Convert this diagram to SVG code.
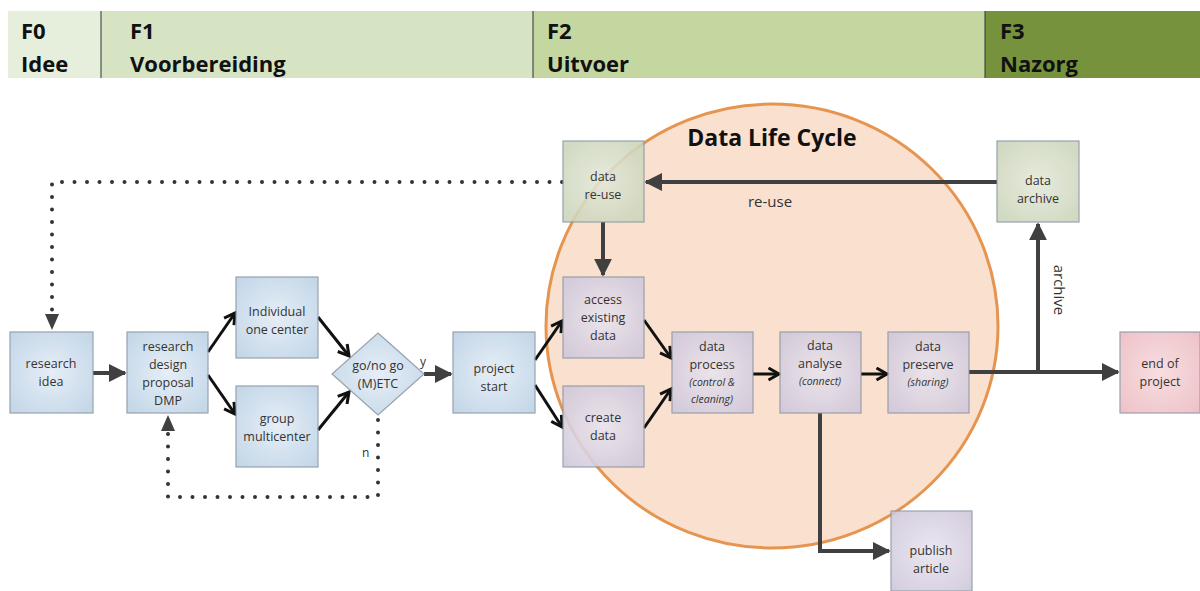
<svg xmlns="http://www.w3.org/2000/svg" width="1200" height="591" viewBox="0 0 1200 591">
<style>
.hd{font-family:"Open Sans","Liberation Sans",Arial,sans-serif;font-weight:bold;font-size:22px;fill:#111}
.t{font-family:"Open Sans","Liberation Sans",sans-serif;font-size:12.5px;fill:#333;text-anchor:middle}
.lbl{font-family:"Open Sans","Liberation Sans",sans-serif;font-size:15px;fill:#333;text-anchor:middle}
.ti{font-family:"Open Sans","Liberation Sans",sans-serif;font-size:10.5px;font-style:italic;fill:#333;text-anchor:middle}
.box{stroke:#8a96a3;stroke-width:1.2;opacity:0.88}
.thick{stroke:#404040;stroke-width:4;fill:none}
.thin{stroke:#111;stroke-width:3;fill:none}
.dot{stroke:#333;stroke-width:4;stroke-linecap:round;stroke-dasharray:0 12.5;fill:none}
</style>
<defs>
<radialGradient id="gb" cx="50%" cy="50%" r="65%"><stop offset="0" stop-color="#e3ecf5"/><stop offset="1" stop-color="#bcd2e6"/></radialGradient>
<radialGradient id="gp" cx="50%" cy="50%" r="65%"><stop offset="0" stop-color="#e9e5ef"/><stop offset="1" stop-color="#cfc7db"/></radialGradient>
<radialGradient id="gg" cx="50%" cy="50%" r="65%"><stop offset="0" stop-color="#e3e8d8"/><stop offset="1" stop-color="#cbd4b9"/></radialGradient>
<radialGradient id="gr" cx="50%" cy="50%" r="65%"><stop offset="0" stop-color="#f7dadd"/><stop offset="1" stop-color="#ecbcc2"/></radialGradient>
<marker id="af" viewBox="0 0 10 10" refX="9" refY="5" markerWidth="4.5" markerHeight="4.5" orient="auto" markerUnits="strokeWidth"><path d="M0,0 L10,5 L0,10 Z" fill="#404040"/></marker>
<marker id="ac" viewBox="0 0 10 10" refX="8" refY="5" markerWidth="5" markerHeight="5" orient="auto" markerUnits="strokeWidth"><path d="M1,1 L8,5 L1,9" fill="none" stroke="#111" stroke-width="2"/></marker>
</defs>
<rect width="1200" height="591" fill="#fff"/>
<g id="phases">
<rect x="8" y="11" width="93" height="67" fill="#e6efdc"/>
<rect x="101" y="11" width="432" height="67" fill="#d7e4c4"/>
<rect x="533" y="11" width="452" height="67" fill="#c4d7a0"/>
<rect x="985" y="11" width="215" height="67" fill="#76923c"/>
<line x1="101" y1="11" x2="101" y2="78" stroke="#333" stroke-width="1"/>
<line x1="533" y1="11" x2="533" y2="78" stroke="#333" stroke-width="1"/>
<line x1="985" y1="11" x2="985" y2="78" stroke="#333" stroke-width="1"/>
<text class="hd" x="21" y="39">F0</text><text class="hd" x="21" y="72">Idee</text>
<text class="hd" x="130" y="39">F1</text><text class="hd" x="130" y="72">Voorbereiding</text>
<text class="hd" x="547" y="39">F2</text><text class="hd" x="547" y="72">Uitvoer</text>
<text class="hd" x="1000" y="39">F3</text><text class="hd" x="1000" y="72">Nazorg</text>
</g>
<g id="data-life-cycle">
<ellipse cx="772" cy="326" rx="226" ry="222" fill="#f8d6bd" fill-opacity="0.75" stroke="#e59550" stroke-width="3"/>
<text x="772" y="146" text-anchor="middle" font-family="'Open Sans','Liberation Sans',sans-serif" font-weight="bold" font-size="23" fill="#111">Data Life Cycle</text>
</g>
<g id="connectors">
<line class="thick" x1="93" y1="373" x2="125" y2="373" marker-end="url(#af)"/>
<line class="thin" x1="208" y1="352" x2="235" y2="313" marker-end="url(#ac)"/>
<line class="thin" x1="208" y1="375" x2="235" y2="414" marker-end="url(#ac)"/>
<line class="thin" x1="318" y1="317" x2="349" y2="356" marker-end="url(#ac)"/>
<line class="thin" x1="318" y1="430" x2="349" y2="392" marker-end="url(#ac)"/>
<line class="thick" x1="424" y1="374" x2="451" y2="374" marker-end="url(#af)"/>
<line class="thin" x1="535" y1="360" x2="562" y2="321" marker-end="url(#ac)"/>
<line class="thin" x1="535" y1="385" x2="562" y2="427" marker-end="url(#ac)"/>
<line class="thin" x1="644" y1="320" x2="671" y2="358" marker-end="url(#ac)"/>
<line class="thin" x1="644" y1="428" x2="671" y2="389" marker-end="url(#ac)"/>
<line class="thin" x1="753" y1="374" x2="779" y2="374" marker-end="url(#ac)"/>
<line class="thin" x1="861" y1="374" x2="887" y2="374" marker-end="url(#ac)"/>
<line class="thick" x1="969" y1="372" x2="1118" y2="372" marker-end="url(#af)"/>
<line class="thick" x1="1038" y1="372" x2="1038" y2="224" marker-end="url(#af)"/>
<line class="thick" x1="997" y1="182" x2="646" y2="182" marker-end="url(#af)"/>
<line class="thick" x1="603" y1="222" x2="603" y2="275" marker-end="url(#af)"/>
<polyline class="thick" points="820,413 820,551 889,551" marker-end="url(#af)"/>
<polyline class="dot" points="562,182 52,182 52,312"/>
<path d="M45,314 L59,314 L52,330 Z" fill="#404040"/>
<polyline class="dot" points="378,420 378,497 168,497 168,433"/>
<path d="M161,431 L175,431 L168,415 Z" fill="#404040"/>
<text x="420" y="366" font-family="'Open Sans','Liberation Sans',sans-serif" font-size="12" fill="#333">y</text>
<text x="362" y="457" font-family="'Open Sans','Liberation Sans',sans-serif" font-size="12" fill="#333">n</text>
<text class="lbl" x="770" y="207">re-use</text>
<text class="lbl" x="1058" y="290" transform="rotate(90 1058 290)" dominant-baseline="middle">archive</text>
</g>
<g id="research-idea"><rect class="box" x="10" y="332" width="83" height="81" fill="url(#gb)"/><text class="t" x="51" y="368">research</text><text class="t" x="51" y="386">idea</text></g>
<g id="research-design"><rect class="box" x="127" y="332" width="81" height="81" fill="url(#gb)"/><text class="t" x="168" y="351">research</text><text class="t" x="168" y="369">design</text><text class="t" x="168" y="387">proposal</text><text class="t" x="168" y="405">DMP</text></g>
<g id="individual"><rect class="box" x="236" y="277" width="82" height="81" fill="url(#gb)"/><text class="t" x="277" y="316">Individual</text><text class="t" x="277" y="334">one center</text></g>
<g id="group"><rect class="box" x="236" y="386" width="82" height="81" fill="url(#gb)"/><text class="t" x="277" y="423">group</text><text class="t" x="277" y="441">multicenter</text></g>
<g id="go-no-go"><polygon class="box" points="378,333 424,374 378,415 332,374" fill="url(#gb)"/><text class="t" x="378" y="370">go/no go</text><text class="t" x="378" y="388">(M)ETC</text></g>
<g id="project-start"><rect class="box" x="453" y="332" width="82" height="81" fill="url(#gb)"/><text class="t" x="494" y="373">project</text><text class="t" x="494" y="391">start</text></g>
<g id="data-reuse"><rect class="box" x="563" y="141" width="81" height="81" fill="url(#gg)" opacity="0.75"/><text class="t" x="603" y="181">data</text><text class="t" x="603" y="199">re-use</text></g>
<g id="access-existing"><rect class="box" x="563" y="277" width="81" height="81" fill="url(#gp)"/><text class="t" x="603" y="304">access</text><text class="t" x="603" y="322">existing</text><text class="t" x="603" y="340">data</text></g>
<g id="create-data"><rect class="box" x="563" y="386" width="81" height="81" fill="url(#gp)"/><text class="t" x="603" y="422">create</text><text class="t" x="603" y="440">data</text></g>
<g id="data-process"><rect class="box" x="672" y="332" width="81" height="81" fill="url(#gp)"/><text class="t" x="712" y="351">data</text><text class="t" x="712" y="369">process</text><text class="ti" x="712" y="386">(control &amp;</text><text class="ti" x="712" y="403">cleaning)</text></g>
<g id="data-analyse"><rect class="box" x="780" y="332" width="81" height="81" fill="url(#gp)"/><text class="t" x="820" y="350">data</text><text class="t" x="820" y="368">analyse</text><text class="ti" x="820" y="385">(connect)</text></g>
<g id="data-preserve"><rect class="box" x="888" y="332" width="81" height="81" fill="url(#gp)"/><text class="t" x="928" y="351">data</text><text class="t" x="928" y="369">preserve</text><text class="ti" x="928" y="386">(sharing)</text></g>
<g id="data-archive"><rect class="box" x="997" y="141" width="82" height="81" fill="url(#gg)"/><text class="t" x="1038" y="185">data</text><text class="t" x="1038" y="203">archive</text></g>
<g id="end-of-project"><rect class="box" x="1120" y="332" width="80" height="81" fill="url(#gr)"/><text class="t" x="1160" y="368">end of</text><text class="t" x="1160" y="386">project</text></g>
<g id="publish-article"><rect class="box" x="891" y="511" width="81" height="80" fill="url(#gp)"/><text class="t" x="931" y="555">publish</text><text class="t" x="931" y="573">article</text></g>
</svg>
